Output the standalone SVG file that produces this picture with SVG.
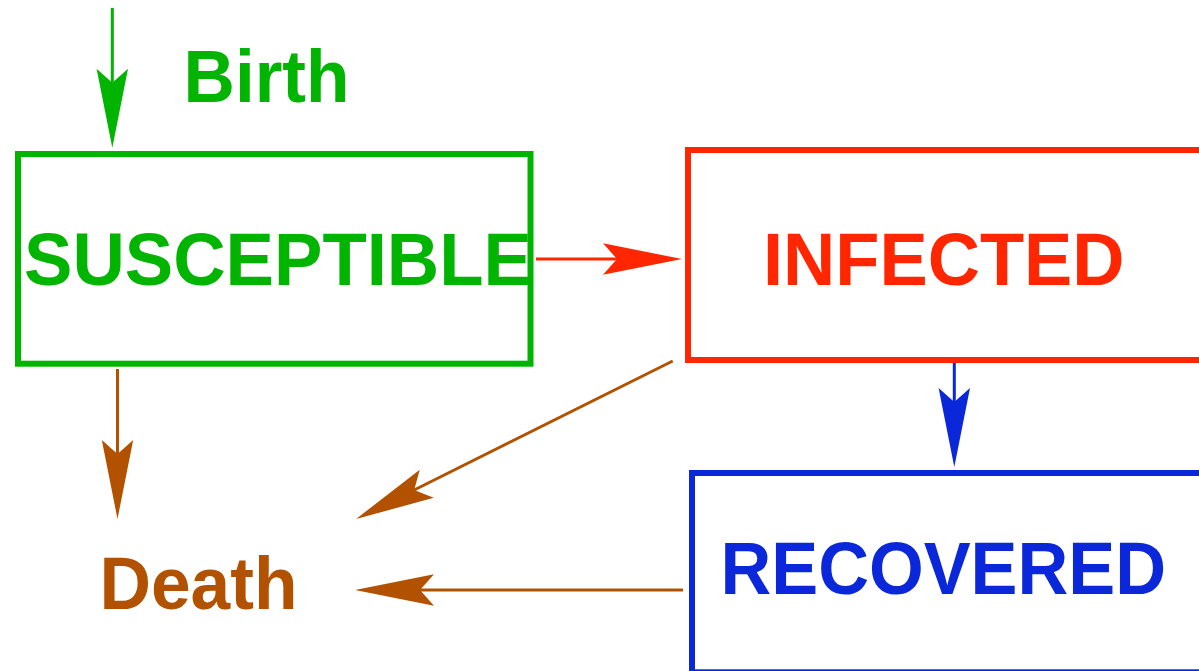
<svg xmlns="http://www.w3.org/2000/svg" width="1199" height="671" viewBox="0 0 1199 671">
  <style>
    .box { fill: none; stroke-width: 6; }
    .lbl { font-family: "Liberation Sans", Arial, Helvetica, sans-serif; font-weight: bold; font-size: 73.5px; }
    .con { fill: none; stroke-width: 3; }
    .green { stroke: #00B400; }
    .red { stroke: #FF2600; }
    .blue { stroke: #0A28DA; }
    .brown { stroke: #B25200; }
  </style>
  <defs>
    <marker id="ahGreen" markerUnits="userSpaceOnUse" viewBox="-15 -17 81 34" refX="0" refY="0" markerWidth="81" markerHeight="34" orient="auto" overflow="visible">
      <path d="M65,0 L-14,-15.7 L0,0 L-14,15.7 Z" fill="#00B400"/>
    </marker>
    <marker id="ahRed" markerUnits="userSpaceOnUse" viewBox="-15 -17 81 34" refX="0" refY="0" markerWidth="81" markerHeight="34" orient="auto" overflow="visible">
      <path d="M65,0 L-14,-15.7 L0,0 L-14,15.7 Z" fill="#FF2600"/>
    </marker>
    <marker id="ahBlue" markerUnits="userSpaceOnUse" viewBox="-15 -17 81 34" refX="0" refY="0" markerWidth="81" markerHeight="34" orient="auto" overflow="visible">
      <path d="M65,0 L-14,-15.7 L0,0 L-14,15.7 Z" fill="#0A28DA"/>
    </marker>
    <marker id="ahBrown" markerUnits="userSpaceOnUse" viewBox="-15 -17 81 34" refX="0" refY="0" markerWidth="81" markerHeight="34" orient="auto" overflow="visible">
      <path d="M65,0 L-14,-15.7 L0,0 L-14,15.7 Z" fill="#B25200"/>
    </marker>
  </defs>
  <rect width="1199" height="671" fill="#ffffff"/>

  <g id="connectors">
    <line class="con green" x1="112.3" y1="8" x2="112.3" y2="82.7" marker-end="url(#ahGreen)"/>
    <line class="con red" x1="536" y1="259" x2="617" y2="259" marker-end="url(#ahRed)"/>
    <line class="con blue" x1="954.3" y1="363" x2="954.3" y2="402" marker-end="url(#ahBlue)"/>
    <line class="con brown" x1="117.5" y1="369" x2="117.5" y2="454" marker-end="url(#ahBrown)"/>
    <line class="con brown" x1="672.7" y1="361" x2="414.2" y2="490" marker-end="url(#ahBrown)"/>
    <line class="con brown" x1="683" y1="590" x2="420" y2="590" marker-end="url(#ahBrown)"/>
  </g>

  <g id="birth">
    <text class="lbl" x="183.5" y="101.7" fill="#00B400" textLength="166" lengthAdjust="spacingAndGlyphs">Birth</text>
  </g>

  <g id="susceptible">
    <rect class="box green" x="18" y="154" width="512.5" height="209.7"/>
    <text class="lbl" x="24" y="285" fill="#00B400" textLength="508" lengthAdjust="spacingAndGlyphs">SUSCEPTIBLE</text>
  </g>

  <g id="infected">
    <rect class="box red" x="688" y="150" width="530" height="210"/>
    <text class="lbl" x="763" y="284.5" fill="#FF2600" textLength="361.5" lengthAdjust="spacingAndGlyphs">INFECTED</text>
  </g>

  <g id="recovered">
    <rect class="box blue" x="692" y="473" width="530" height="199.3"/>
    <text class="lbl" x="720.5" y="594" fill="#0A28DA" textLength="445.5" lengthAdjust="spacingAndGlyphs">RECOVERED</text>
  </g>

  <g id="death">
    <text class="lbl" x="99.5" y="609.3" fill="#B25200" textLength="198" lengthAdjust="spacingAndGlyphs">Death</text>
  </g>
</svg>
